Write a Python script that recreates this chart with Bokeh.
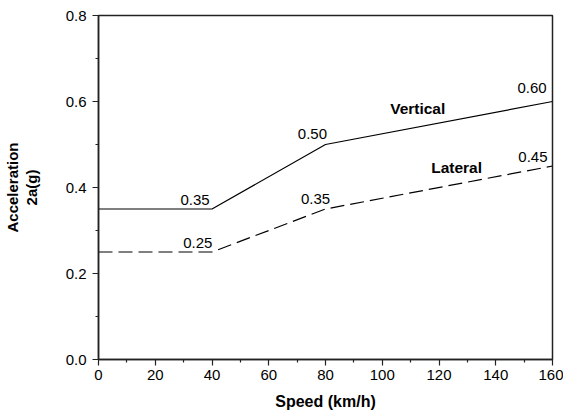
from bokeh.plotting import figure
from bokeh.models import Range1d, PrintfTickFormatter, ColumnDataSource, FixedTicker
from bokeh.core.properties import value
from bokeh.embed import file_html
from bokeh.resources import INLINE

# ---- data ----
speed = [0, 40, 80, 160]
vertical = [0.35, 0.35, 0.50, 0.60]
lateral = [0.25, 0.25, 0.35, 0.45]

val_text = ["0.35", "0.25", "0.50", "0.35", "0.60", "0.45"]
val_x = [34, 35, 75.4, 76.5, 152.8, 153.1]
val_y = [0.372, 0.27, 0.525, 0.373, 0.631, 0.470]

series_names = ["Vertical", "Lateral"]
name_x = [112.5, 126.2]
name_y = [0.583, 0.447]

x_ticks = [0, 20, 40, 60, 80, 100, 120, 140, 160]
x_minor = [10, 30, 50, 70, 90, 110, 130, 150]
y_ticks = [0.0, 0.2, 0.4, 0.6, 0.8]
y_minor = [0.1, 0.3, 0.5, 0.7]

FONT = "Liberation Sans"

p = figure(width=563, height=414, output_backend="svg", toolbar_location=None,
           x_range=Range1d(0, 160), y_range=Range1d(0, 0.8),
           min_border_left=97, min_border_right=11, min_border_top=15,
           min_border_bottom=55)
p.grid.visible = False
p.background_fill_color = "white"
p.border_fill_color = "white"
p.outline_line_color = "#222222"
p.outline_line_width = 1.5

p.line(speed, vertical, line_color="black", line_width=1.2)
p.line(speed, lateral, line_color="black", line_width=1.2, line_dash="14 6")

vsrc = ColumnDataSource(dict(x=val_x, y=val_y, t=val_text))
p.text(x="x", y="y", text="t", source=vsrc, text_align="center",
       text_baseline="middle", text_font=value(FONT), text_font_size="15px",
       text_color="black")
nsrc = ColumnDataSource(dict(x=name_x, y=name_y, t=series_names))
p.text(x="x", y="y", text="t", source=nsrc, text_align="center",
       text_baseline="middle", text_font=value(FONT), text_font_size="15.5px",
       text_font_style="bold", text_color="black")

for ax in (p.xaxis[0], p.yaxis[0]):
    ax.axis_line_color = "#222222"
    ax.axis_line_width = 1.5
    ax.major_tick_line_color = "#222222"
    ax.minor_tick_line_color = "#222222"
    ax.major_tick_line_width = 1.2
    ax.minor_tick_line_width = 1.2
    ax.major_tick_in = 0
    ax.major_tick_out = 6
    ax.minor_tick_in = 0
    ax.minor_tick_out = 3
    ax.major_label_text_font = FONT
    ax.major_label_text_font_size = "15px"
    ax.major_label_text_color = "black"
    ax.axis_label_text_font = FONT
    ax.axis_label_text_font_style = "bold"
    ax.axis_label_text_color = "black"

p.xaxis[0].axis_label_text_font_size = "16px"
p.yaxis[0].axis_label_text_font_size = "15px"

p.xaxis[0].ticker = FixedTicker(ticks=x_ticks, minor_ticks=x_minor)
p.yaxis[0].ticker = FixedTicker(ticks=y_ticks, minor_ticks=y_minor)
p.yaxis[0].formatter = PrintfTickFormatter(format="%.1f")

p.xaxis[0].axis_label = "Speed (km/h)"
p.xaxis[0].major_label_standoff = 4
p.xaxis[0].axis_label_standoff = 10
p.yaxis[0].axis_label = "Acceleration\n2a(g)"
p.yaxis[0].major_label_standoff = 6
p.yaxis[0].axis_label_standoff = 23
p.yaxis[0].axis_label_text_line_height = 1.1

open("out.html", "w").write(file_html(p, INLINE))
